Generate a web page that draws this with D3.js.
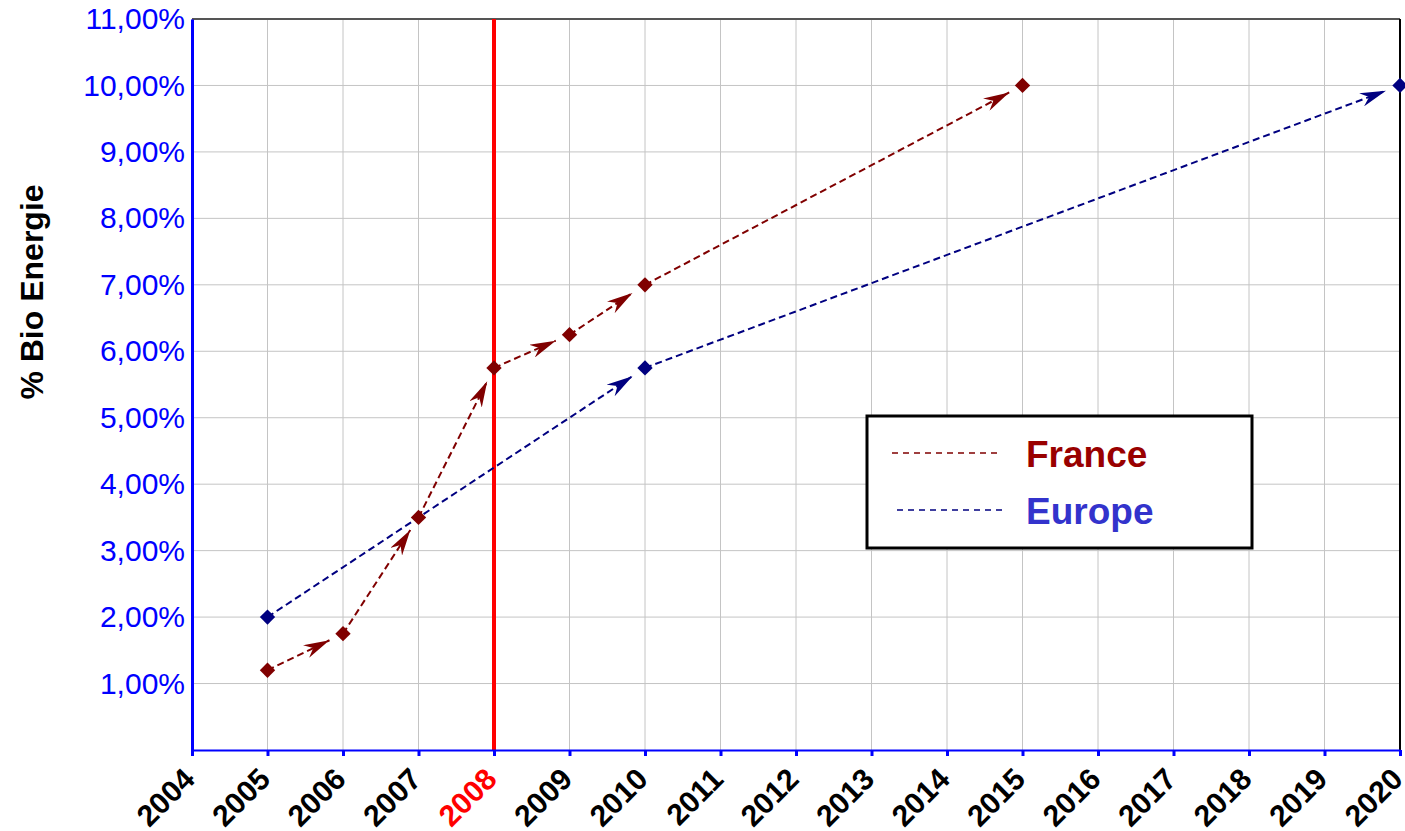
<!DOCTYPE html>
<html>
<head>
<meta charset="utf-8">
<script src="https://cdn.jsdelivr.net/npm/d3@7"></script>
<style>
  body { margin: 0; background: #fff; }
  text { font-family: "Liberation Sans", Arial, sans-serif; }
</style>
</head>
<body>
<div class="chart"></div>
<script>
// data
const years = d3.range(2004, 2021)
const yTicks = [0.01, 0.02, 0.03, 0.04, 0.05, 0.06, 0.07, 0.08, 0.09, 0.10, 0.11]
const franceYears = [2005, 2006, 2007, 2008, 2009, 2010, 2015]
const franceValues = [0.012, 0.0175, 0.035, 0.0575, 0.0625, 0.07, 0.10]
const europeYears = [2005, 2010, 2020]
const europeValues = [0.02, 0.0575, 0.10]
const highlightYear = 2008

const width = 1405
const height = 831
const margin = ({ top: 19, right: 5, bottom: 81, left: 192 })

const svg = d3.select(".chart")
    .append("svg")
    .attr("width", width)
    .attr("height", height)

const x = d3.scaleLinear()
    .domain([2004, 2020])
    .range([margin.left, width - margin.right])

const y = d3.scaleLinear()
    .domain([0, 0.11])
    .range([height - margin.bottom, margin.top])

// grid
svg.append("g")
    .selectAll("line")
    .data(years)
    .join("line")
    .attr("x1", d => x(d)).attr("x2", d => x(d))
    .attr("y1", y(0.11)).attr("y2", y(0))
    .attr("stroke", "#c4c4c4").attr("stroke-width", 1)

svg.append("g")
    .selectAll("line")
    .data(yTicks)
    .join("line")
    .attr("x1", x(2004)).attr("x2", x(2020))
    .attr("y1", d => y(d)).attr("y2", d => y(d))
    .attr("stroke", "#c4c4c4").attr("stroke-width", 1)

// frame top / right
svg.append("line")
    .attr("x1", x(2004)).attr("x2", x(2020))
    .attr("y1", y(0.11)).attr("y2", y(0.11))
    .attr("stroke", "#555").attr("stroke-width", 2)
svg.append("line")
    .attr("x1", x(2020)).attr("x2", x(2020))
    .attr("y1", y(0.11)).attr("y2", y(0))
    .attr("stroke", "#000").attr("stroke-width", 2)

// red line 2008
svg.append("line")
    .attr("x1", x(highlightYear)).attr("x2", x(highlightYear))
    .attr("y1", y(0.11)).attr("y2", y(0))
    .attr("stroke", "#ff0000").attr("stroke-width", 4)

// axes
const xAxis = svg.append("g")
    .attr("transform", "translate(0," + y(0) + ")")
    .call(d3.axisBottom(x).tickValues(years).tickFormat(d3.format("d")).tickSize(6).tickSizeOuter(0))
xAxis.select(".domain").attr("stroke", "#0000ff").attr("stroke-width", 2)
xAxis.selectAll(".tick line").attr("stroke", "#0000ff").attr("stroke-width", 3)
xAxis.selectAll(".tick text")
    .attr("font-size", 30)
    .attr("font-weight", "bold")
    .attr("fill", d => d === highlightYear ? "#ff0000" : "#000")
    .attr("text-anchor", "end")
    .attr("dy", null)
    .attr("transform", "translate(4,31) rotate(-45)")
    .attr("y", 0).attr("x", 0)

const yAxis = svg.append("g")
    .attr("transform", "translate(" + margin.left + ",0)")
    .call(d3.axisLeft(y).tickValues(yTicks).tickSize(0).tickPadding(7)
        .tickFormat(d => d3.format(".2f")(d * 100).replace(".", ",") + "%"))
yAxis.select(".domain").attr("stroke", "#0000ff").attr("stroke-width", 3)
yAxis.selectAll(".tick text")
    .attr("font-size", 30)
    .attr("fill", "#0000ff")

svg.append("text")
    .attr("transform", "translate(43,292) rotate(-90)")
    .attr("text-anchor", "middle")
    .attr("font-size", 32)
    .attr("font-weight", "bold")
    .text("% Bio Energie")

// arrow markers
const defs = svg.append("defs")
function arrow(id, color) {
    defs.append("marker")
        .attr("id", id)
        .attr("viewBox", "0 0 26 14")
        .attr("refX", 26).attr("refY", 7)
        .attr("markerWidth", 26).attr("markerHeight", 14)
        .attr("markerUnits", "userSpaceOnUse")
        .attr("orient", "auto")
        .append("path")
        .attr("d", "M0,0 L26,7 L0,14 L8,7 Z")
        .attr("fill", color)
}
arrow("arrowF", "#800000")
arrow("arrowE", "#000080")

function drawSeries(xs, vs, color, markerId) {
    const pts = xs.map((d, i) => [x(d), y(vs[i])])
    const segs = d3.pairs(pts)
    const gap = 15
    svg.append("g")
        .selectAll("line")
        .data(segs)
        .join("line")
        .attr("x1", d => d[0][0]).attr("y1", d => d[0][1])
        .attr("x2", d => {
            const len = Math.hypot(d[1][0] - d[0][0], d[1][1] - d[0][1])
            return d[1][0] - (d[1][0] - d[0][0]) / len * gap
        })
        .attr("y2", d => {
            const len = Math.hypot(d[1][0] - d[0][0], d[1][1] - d[0][1])
            return d[1][1] - (d[1][1] - d[0][1]) / len * gap
        })
        .attr("stroke", color)
        .attr("stroke-width", 2)
        .attr("stroke-dasharray", "7,4")
        .attr("marker-end", "url(#" + markerId + ")")

    svg.append("g")
        .selectAll("path")
        .data(pts)
        .join("path")
        .attr("transform", d => "translate(" + d[0] + "," + d[1] + ")")
        .attr("d", d3.symbol(d3.symbolDiamond2, 150))
        .attr("fill", color)
}

drawSeries(europeYears, europeValues, "#000080", "arrowE")
drawSeries(franceYears, franceValues, "#800000", "arrowF")

// legend
const legend = svg.append("g").attr("transform", "translate(867,416)")
legend.append("rect")
    .attr("width", 385).attr("height", 132)
    .attr("fill", "#fff")
    .attr("stroke", "#000").attr("stroke-width", 3)
const legendItems = [
    { name: "France", line: "#800000", text: "#990000", ly: 37, ty: 51, lx: 25 },
    { name: "Europe", line: "#000080", text: "#3333cc", ly: 94, ty: 108, lx: 30 }
]
legend.selectAll("line")
    .data(legendItems)
    .join("line")
    .attr("x1", d => d.lx).attr("x2", d => d.lx + 107)
    .attr("y1", d => d.ly).attr("y2", d => d.ly)
    .attr("stroke", d => d.line)
    .attr("stroke-width", 1.5)
    .attr("stroke-dasharray", "6,5")
legend.selectAll("text")
    .data(legendItems)
    .join("text")
    .attr("x", 159)
    .attr("y", d => d.ty)
    .attr("font-size", 37)
    .attr("font-weight", "bold")
    .attr("fill", d => d.text)
    .text(d => d.name)
</script>
</body>
</html>
